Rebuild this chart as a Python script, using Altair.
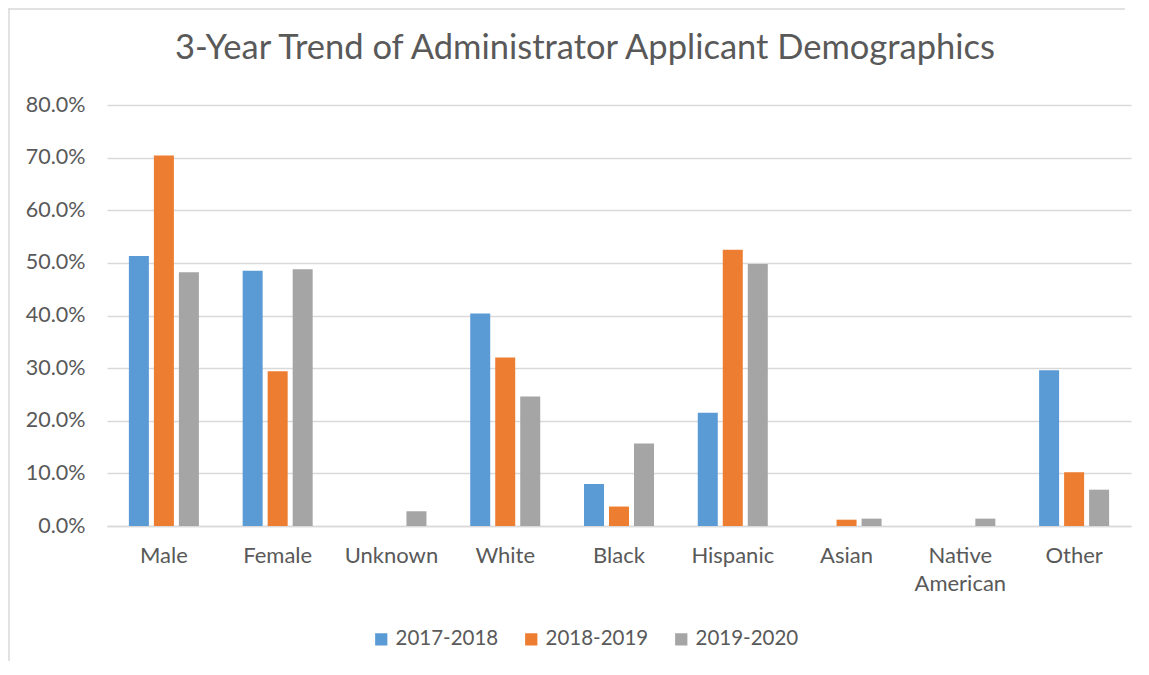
import altair as alt
import pandas as pd

categories = ["Male", "Female", "Unknown", "White", "Black", "Hispanic", "Asian", "Native American", "Other"]
series = ["2017-2018", "2018-2019", "2019-2020"]
v_2017 = [0.513, 0.485, 0.0, 0.404, 0.080, 0.215, 0.0, 0.0, 0.296]
v_2018 = [0.704, 0.294, 0.0, 0.320, 0.037, 0.525, 0.012, 0.0, 0.102]
v_2019 = [0.482, 0.488, 0.028, 0.246, 0.157, 0.498, 0.014, 0.014, 0.069]
colors = ["#5B9BD5", "#ED7D31", "#A5A5A5"]
title_text = ["3-Year Trend of Administrator Applicant Demographics"]

rows = []
for s, vals in zip(series, [v_2017, v_2018, v_2019]):
    for c, v in zip(categories, vals):
        rows.append({"Category": c, "Year": s, "Value": v})
df = pd.DataFrame(rows)

FONT = "Lato"
TXT = "#595959"

bars = alt.Chart(df).mark_bar().encode(
    x=alt.X("Category:N", sort=categories, title=None,
            scale=alt.Scale(paddingInner=0, paddingOuter=0),
            axis=alt.Axis(labelAngle=0, ticks=False, grid=False, domainColor="#D9D9D9", domainWidth=1.5,
                          labelFont=FONT, labelFontSize=22, labelColor=TXT, labelPadding=19,
                          labelExpr="datum.value == 'Native American' ? ['Native', 'American'] : datum.value",
                          labelLineHeight=28)),
    xOffset=alt.XOffset("Year:N", sort=series,
                        scale=alt.Scale(paddingInner=0.2, paddingOuter=0.875)),
    y=alt.Y("Value:Q", title=None,
            scale=alt.Scale(domain=[0, 0.8], nice=False),
            axis=alt.Axis(format=".1%", values=[0, 0.1, 0.2, 0.3, 0.4, 0.5, 0.6, 0.7, 0.8],
                          domain=False, ticks=False, gridColor="#D9D9D9", gridWidth=1.5,
                          labelFont=FONT, labelFontSize=21.5, labelColor=TXT, labelPadding=22)),
    color=alt.Color("Year:N", sort=series, title=None,
                    scale=alt.Scale(domain=series, range=colors),
                    legend=alt.Legend(orient="none", direction="horizontal", legendX=264, legendY=524,
                                      symbolType="square", symbolSize=150, symbolStrokeWidth=0,
                                      labelFont=FONT, labelFontSize=20.5, labelColor=TXT,
                                      columnPadding=22, labelOffset=4)),
)

border_left = alt.Chart(pd.DataFrame({"b": [0]})).mark_rule(
    stroke="#D9D9D9", strokeWidth=1.5
).encode(x=alt.value(-98), x2=alt.value(-98), y=alt.value(-97), y2=alt.value(556))

border_top = alt.Chart(pd.DataFrame({"b": [0]})).mark_rule(
    stroke="#D9D9D9", strokeWidth=1.5
).encode(x=alt.value(-98), x2=alt.value(1018), y=alt.value(-96), y2=alt.value(-96))

title = alt.Chart(pd.DataFrame({"t": title_text})).mark_text(
    font=FONT, fontSize=34.5, color=TXT, align="center", baseline="middle"
).encode(
    text="t:N", x=alt.value(478), y=alt.value(-56),
)

chart = alt.layer(bars, border_left, border_top, title).properties(
    width=1024,
    height=421,
    autosize=alt.AutoSizeParams(type="none"),
    padding={"left": 99, "top": 97, "right": 4, "bottom": 135},
).configure(background="white").configure_view(stroke=None)

chart.save("out.html", embed_options={"renderer": "svg", "actions": False})
